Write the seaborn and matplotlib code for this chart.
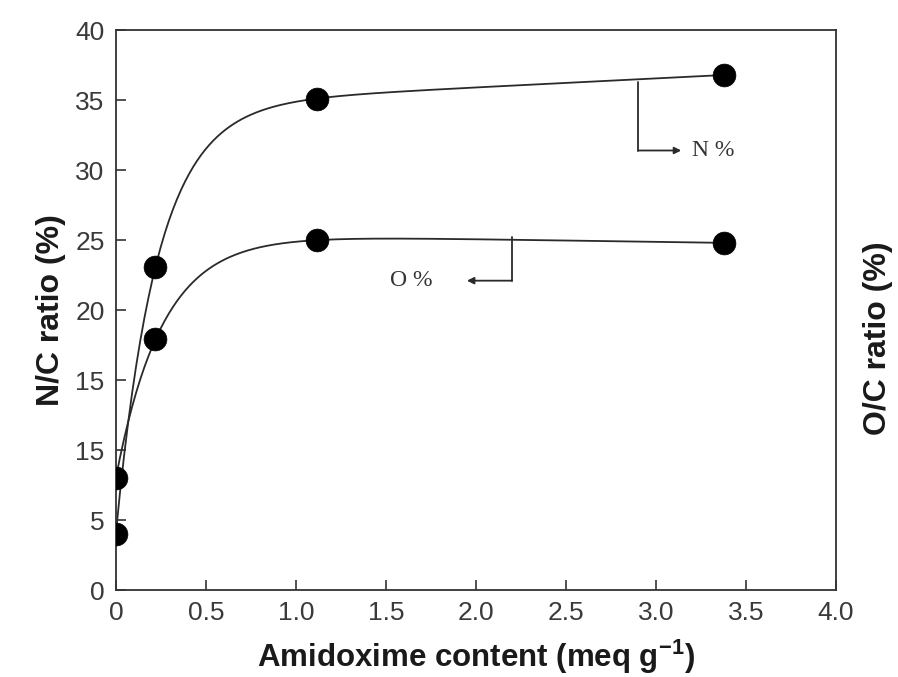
import numpy as np
import pandas as pd
import matplotlib
matplotlib.use("Agg")
import matplotlib.pyplot as plt
import seaborn as sns

# Amidoxime content (meq/g) and surface atomic ratios
amidoxime = [0.0, 0.22, 1.12, 3.38]
n_ratio = [4.0, 23.1, 35.1, 36.8]
o_ratio = [8.0, 17.9, 25.0, 24.8]

x_ticks = [0, 0.5, 1.0, 1.5, 2.0, 2.5, 3.0, 3.5, 4.0]
x_tick_labels = ["0", "0.5", "1.0", "1.5", "2.0", "2.5", "3.0", "3.5", "4.0"]
y_ticks = [0, 5, 10, 15, 20, 25, 30, 35, 40]
y_tick_labels = ["0", "5", "15", "15", "20", "25", "30", "35", "40"]

sns.set_style("ticks")
plt.rcParams["font.family"] = ["Liberation Sans", "DejaVu Sans"]
plt.rcParams["mathtext.fontset"] = "custom"
plt.rcParams["mathtext.rm"] = "Liberation Sans:bold"
plt.rcParams["mathtext.bf"] = "Liberation Sans:bold"


def smooth_fit(x, y, n=300):
    """Least-squares fit of y = c + a*(1 - exp(-b x)) + d*x on a fine grid."""
    x = np.asarray(x, float)
    y = np.asarray(y, float)
    best = None
    for b in np.linspace(0.5, 25, 500):
        A = np.column_stack([np.ones_like(x), 1 - np.exp(-b * x), x])
        coef, *_ = np.linalg.lstsq(A, y, rcond=None)
        err = np.sum((A @ coef - y) ** 2)
        if best is None or err < best[0]:
            best = (err, b, coef)
    _, b, (c, a, d) = best
    xs = np.linspace(x.min(), x.max(), n)
    return xs, c + a * (1 - np.exp(-b * xs)) + d * xs


fig = plt.figure(figsize=(8.98, 6.77), dpi=100)
ax = fig.add_axes([0.129, 0.1285, 0.802, 0.827])

line_color = "#2a2a2a"
for ratio in (n_ratio, o_ratio):
    xs, ys = smooth_fit(amidoxime, ratio)
    sns.lineplot(x=xs, y=ys, ax=ax, color=line_color, linewidth=1.3)

points = pd.DataFrame({
    "amidoxime": amidoxime * 2,
    "ratio": n_ratio + o_ratio,
})
sns.scatterplot(data=points, x="amidoxime", y="ratio", ax=ax, s=270,
                color="black", edgecolor="black", linewidth=0.5, zorder=5)

# Series callouts
ax.annotate("", xy=(3.14, 31.4), xytext=(2.9, 31.4),
            arrowprops=dict(arrowstyle="-|>", color=line_color, lw=1.3,
                            mutation_scale=10, shrinkA=0, shrinkB=0))
ax.plot([2.9, 2.9], [36.3, 31.4], color=line_color, lw=1.3)
ax.text(3.2, 31.4, "N %", family=["Liberation Serif", "DejaVu Serif"],
        fontsize=17, color="#333333", va="center", ha="left")

ax.annotate("", xy=(1.95, 22.1), xytext=(2.2, 22.1),
            arrowprops=dict(arrowstyle="-|>", color=line_color, lw=1.3,
                            mutation_scale=10, shrinkA=0, shrinkB=0))
ax.plot([2.2, 2.2], [25.2, 22.1], color=line_color, lw=1.3)
ax.text(1.52, 22.1, "O %", family=["Liberation Serif", "DejaVu Serif"],
        fontsize=17, color="#333333", va="center", ha="left")

ax.set_xlim(0, 4.0)
ax.set_ylim(0, 40)
ax.set_xticks(x_ticks)
ax.set_xticklabels(x_tick_labels)
ax.set_yticks(y_ticks)
ax.set_yticklabels(y_tick_labels)
ax.tick_params(direction="in", length=7, width=1.2, labelsize=19,
               labelcolor="#3a3a3a", color="#333333", pad=8)

for side in ("top", "right", "left", "bottom"):
    ax.spines[side].set_visible(True)
    ax.spines[side].set_linewidth(1.3)
    ax.spines[side].set_color("#333333")

ax.set_xlabel(r"Amidoxime content (meq g$^{-1}$)", fontsize=22.5,
              fontweight="bold", color="#1a1a1a", labelpad=9)
ax.set_ylabel("N/C ratio (%)", fontsize=23, fontweight="bold",
              color="#1a1a1a", labelpad=7)
fig.text(0.978, 0.5, "O/C ratio (%)", rotation=90, fontsize=23,
         fontweight="bold", color="#1a1a1a", ha="center", va="center")

fig.savefig("out.png", dpi=100, facecolor="white")
